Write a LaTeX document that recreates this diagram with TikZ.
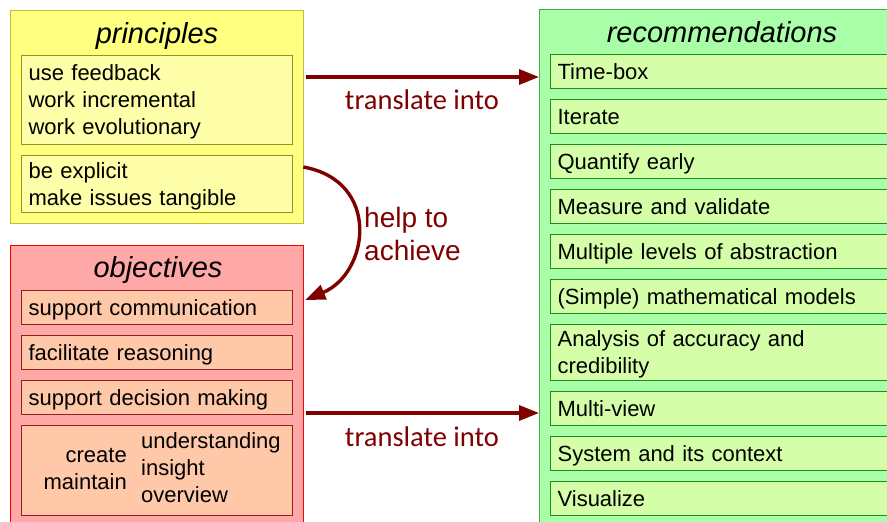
\documentclass[tikz,border=0pt]{standalone}
\usepackage{fontspec}
\setmainfont{Liberation Sans}
\newfontfamily\labelfont{Carlito}
\usetikzlibrary{arrows.meta}

\definecolor{yelOuter}{RGB}{255,255,128}
\definecolor{yelOuterLine}{RGB}{190,190,60}
\definecolor{yelInner}{RGB}{255,255,170}
\definecolor{yelInnerLine}{RGB}{150,150,20}
\definecolor{redOuter}{RGB}{255,168,168}
\definecolor{redOuterLine}{RGB}{255,0,0}
\definecolor{redInner}{RGB}{255,200,168}
\definecolor{redInnerLine}{RGB}{150,30,30}
\definecolor{grnOuter}{RGB}{168,255,168}
\definecolor{grnOuterLine}{RGB}{70,170,70}
\definecolor{grnInner}{RGB}{212,255,168}
\definecolor{grnInnerLine}{RGB}{30,140,30}
\definecolor{arrowred}{RGB}{128,0,0}

% invisible rule that fixes the height and depth of each text line
\newcommand\linestrut{\rule[-6.1pt]{0pt}{27pt}}

\begin{document}
\begin{tikzpicture}[x=1pt,y=-1pt,
  outerbox/.style={draw, line width=1.3pt, anchor=north west, inner sep=0pt},
  itembox/.style={draw, line width=1.2pt, anchor=north west, inner xsep=7pt,
    inner ysep=0pt, align=left, font=\fontsize{22}{27}\selectfont,
    execute at begin node=\linestrut, execute at end node=\linestrut},
  ybox/.style={itembox, fill=yelInner, draw=yelInnerLine, text width=257pt},
  rbox/.style={itembox, fill=redInner, draw=redInnerLine, text width=257pt},
  gbox/.style={itembox, fill=grnInner, draw=grnInnerLine, text width=346pt},
  boxtitle/.style={font=\fontsize{29}{33}\selectfont\itshape, anchor=base},
  bodytext/.style={font=\fontsize{22}{27}\selectfont, inner sep=0pt,
    execute at begin node=\linestrut, execute at end node=\linestrut},
  flow/.style={draw=arrowred, line width=3.4pt,
    -{Triangle[length=20pt,width=15pt]}},
  flowlabel/.style={text=arrowred, inner sep=0pt}
]
\useasboundingbox (0,0) rectangle (887,522);
\clip (0,0) rectangle (887,522);

% container boxes
\node[outerbox, fill=yelOuter, draw=yelOuterLine, minimum width=293pt, minimum height=213pt] (principles) at (10,10) {};
\node[outerbox, fill=redOuter, draw=redOuterLine, minimum width=293pt, minimum height=300pt] (objectives) at (10,245) {};
\node[outerbox, fill=grnOuter, draw=grnOuterLine, minimum width=400pt, minimum height=530pt] (recs) at (539,9) {};

% titles (placed on their baselines)
\node[boxtitle] (ptitle) at (157,43) {principles};
\node[boxtitle] (otitle) at (158,277) {objectives};
\node[boxtitle] (rtitle) at (722,42) {recommendations};

% principles
\node[ybox, minimum height=89pt] (pr1) at (21,55) {use feedback\\work incremental\\work evolutionary};
\node[ybox, minimum height=57pt] (pr2) at (21,155) {be explicit\\make issues tangible};

% objectives
\node[rbox, minimum height=34pt] (ob1) at (21,290) {support communication};
\node[rbox, minimum height=34pt] (ob2) at (21,335) {facilitate reasoning};
\node[rbox, minimum height=34pt] (ob3) at (21,380) {support decision making};
\node[rbox, minimum height=90pt] (ob4) at (21,425) {};
\node[bodytext, anchor=east, align=right] (verbs) at (127,472) {create\\maintain};
\node[bodytext, anchor=west, align=left] (goals) at (141,471) {understanding\\insight\\overview};

% recommendations
\node[gbox, minimum height=34pt] (rc1) at (550,54) {Time-box};
\node[gbox, minimum height=34pt] (rc2) at (550,99) {Iterate};
\node[gbox, minimum height=34pt] (rc3) at (550,144) {Quantify early};
\node[gbox, minimum height=34pt] (rc4) at (550,189) {Measure and validate};
\node[gbox, minimum height=34pt] (rc5) at (550,234) {Multiple levels of abstraction};
\node[gbox, minimum height=34pt] (rc6) at (550,279) {(Simple) mathematical models};
\node[gbox, minimum height=56pt] (rc7) at (550,324) {Analysis of accuracy and\\credibility};
\node[gbox, minimum height=34pt] (rc8) at (550,391) {Multi-view};
\node[gbox, minimum height=34pt] (rc9) at (550,436) {System and its context};
\node[gbox, minimum height=34pt] (rc10) at (550,481) {Visualize};

% connectors
\draw[flow] ([xshift=2pt,yshift=-67pt]principles.north east) -- ([yshift=-68pt]recs.north west);
\draw[flow] ([xshift=2pt,yshift=-168pt]objectives.north east) -- ([yshift=-404pt]recs.north west);
\draw[flow] ([xshift=-1pt,yshift=-157pt]principles.north east)
  .. controls +(78,14) and +(64,-27) .. ([xshift=1pt,yshift=-55pt]objectives.north east);

% connector labels
\node[flowlabel, font=\labelfont\fontsize{28.5}{32}\selectfont] (t1) at (422,100) {translate into};
\node[flowlabel, font=\labelfont\fontsize{28.5}{32}\selectfont] (t2) at (422,437) {translate into};
\node[flowlabel, anchor=west, align=left, font=\fontsize{28}{33}\selectfont] (help) at (364,234) {help to\\achieve};
\end{tikzpicture}
\end{document}
